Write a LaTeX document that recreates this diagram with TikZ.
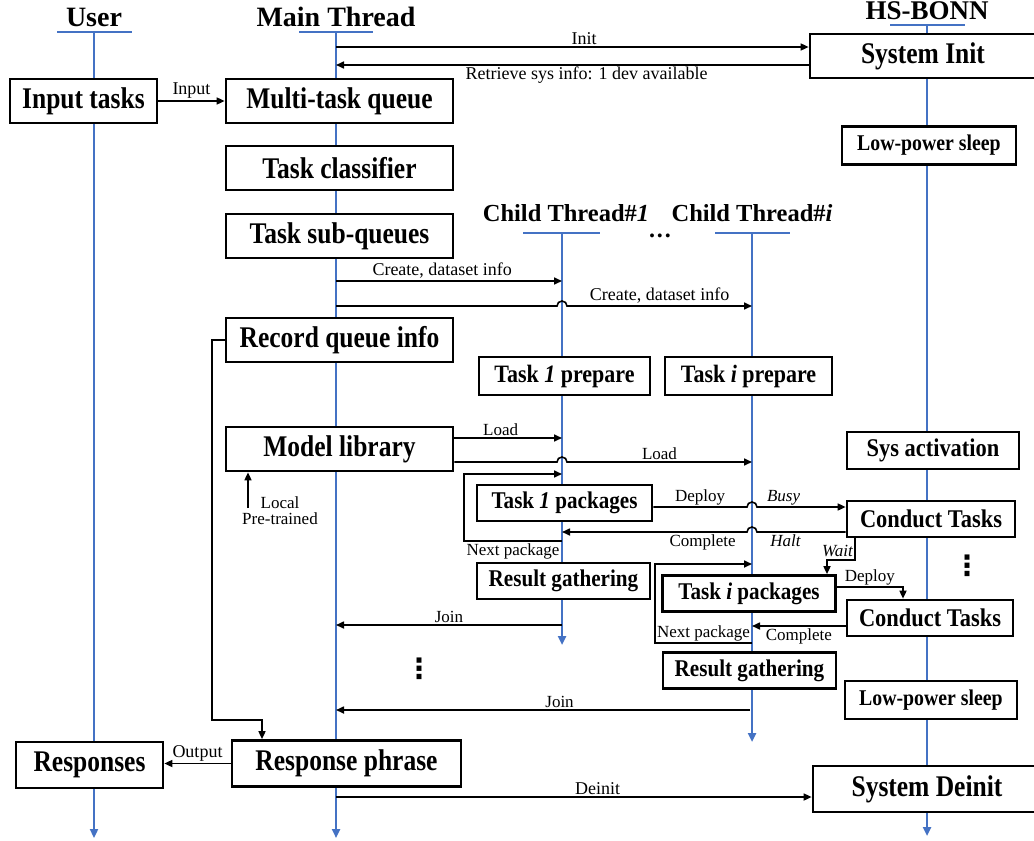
\documentclass[tikz,border=0pt]{standalone}
\usepackage{fontspec}
\setmainfont{Liberation Serif}
\newfontfamily\bxf[FakeStretch=0.85]{Liberation Serif}
\newfontfamily\mxf[FakeStretch=0.88]{Liberation Serif}
\newfontfamily\dejavu{DejaVu Sans}
\usetikzlibrary{arrows.meta,calc}
\definecolor{lifeblue}{HTML}{4472C4}
\tikzset{
  life/.style={draw=lifeblue, line width=2.5pt},
  lifearr/.style={life, -{Triangle[length=9pt,width=8pt]}},
  boxbase/.style={draw, line width=2.7pt, fill=white, inner sep=0pt},
  bigbox/.style={boxbase, minimum height=44pt, font=\bxf\bfseries\fontsize{30}{32}\selectfont},
  midbox/.style={boxbase, minimum height=36pt, font=\mxf\bfseries\fontsize{24}{26}\selectfont},
  ttl/.style={inner sep=0pt, font=\bfseries\fontsize{28}{30}\selectfont},
  cttl/.style={inner sep=0pt, font=\bfseries\fontsize{24.5}{26}\selectfont},
  conn/.style={line width=1.6pt},
  arr/.style={conn, -{Triangle[length=8pt,width=7pt]}},
  lab/.style={inner sep=1.5pt, font=\fontsize{18}{20}\selectfont},
  slab/.style={inner sep=1.5pt, font=\fontsize{17}{18}\selectfont},
  ilab/.style={inner sep=1.5pt, font=\itshape\fontsize{17}{18}\selectfont},
  vdots/.style={inner sep=0pt, font=\dejavu\bfseries\fontsize{28}{29}\selectfont},
}
\begin{document}
\begin{tikzpicture}[x=1pt,y=-1pt]
\useasboundingbox (0,0) rectangle (1034,841);
% lifelines
\coordinate (uTop) at (94,32);   \coordinate (uEnd) at (94,838);
\coordinate (mTop) at (336,32);  \coordinate (mEnd) at (336,838);
\coordinate (hTop) at (927,25);  \coordinate (hEnd) at (927,836);
\coordinate (c1Top) at (562,233); \coordinate (c1End) at (562,645);
\coordinate (ciTop) at (752,233); \coordinate (ciEnd) at (752,742);
\draw[lifearr] (uTop) -- (uEnd);
\draw[lifearr] (mTop) -- (mEnd);
\draw[lifearr] (hTop) -- (hEnd);
\draw[lifearr] (c1Top) -- (c1End);
\draw[lifearr] (ciTop) -- (ciEnd);
\draw[life] ($(uTop)+(-37,0)$) -- ($(uTop)+(38,0)$);
\draw[life] ($(mTop)+(-37,0)$) -- ($(mTop)+(37,0)$);
\draw[life] ($(hTop)+(-37,0)$) -- ($(hTop)+(38,0)$);
\draw[life] ($(c1Top)+(-39,0)$) -- ($(c1Top)+(38,0)$);
\draw[life] ($(ciTop)+(-37,0)$) -- ($(ciTop)+(38,0)$);
% titles
\node[ttl] (tUser) at (94,17) {User};
\node[ttl] (tMain) at (336,17) {Main Thread};
\node[ttl, font=\bfseries\fontsize{27}{29}\selectfont] (tHS) at (927,11) {HS-BONN};
\node[cttl] (tC1) at (566,213) {Child Thread\#\textit{1}};
\node[cttl] (tCi) at (752,213) {Child Thread\#\textit{i}};
\node[inner sep=0pt, font=\bfseries\fontsize{24}{26}\selectfont] (hdots) at (660,236) {.\hspace{2pt}.\hspace{2pt}.};
\node[vdots] (vd1) at (419,669) {⋮};
\node[vdots] (vd2) at (967,566) {⋮};
% boxes
\node[bigbox, minimum width=147pt] (inp) at (83.5,101) {Input tasks};
\node[bigbox, minimum width=227pt] (mtq) at (339.5,101) {Multi-task queue};
\node[bigbox, minimum width=226pt] (sysinit) at (923,56) {System Init};
\node[midbox, minimum width=174pt, minimum height=38pt, font=\mxf\bfseries\fontsize{22.5}{24}\selectfont] (lps1) at (929,145.5) {Low-power sleep};
\node[bigbox, minimum width=227pt] (tcl) at (339.5,168) {Task classifier};
\node[bigbox, minimum width=227pt] (tsq) at (339.5,236) {Task sub-queues};
\node[bigbox, minimum width=227pt] (rqi) at (339.5,340) {Record queue info};
\node[midbox, minimum width=171pt, minimum height=38pt, font=\mxf\bfseries\fontsize{25}{26}\selectfont] (t1p) at (564.5,376) {Task \textit{1} prepare};
\node[midbox, minimum width=167pt, minimum height=38pt, font=\mxf\bfseries\fontsize{25}{26}\selectfont] (tip) at (748.5,376) {Task \textit{i} prepare};
\node[bigbox, minimum width=227pt] (ml) at (339.5,449) {Model library};
\node[midbox, minimum width=172pt, minimum height=37pt, font=\mxf\bfseries\fontsize{25.5}{26}\selectfont] (sa) at (933,450.5) {Sys activation};
\node[midbox, minimum width=175pt] (t1k) at (564.5,503) {Task \textit{1} packages};
\node[midbox, minimum width=168pt, font=\mxf\bfseries\fontsize{25.5}{26}\selectfont] (ct1) at (931,519) {Conduct Tasks};
\node[midbox, minimum width=173pt] (rg1) at (563.5,581) {Result gathering};
\node[midbox, minimum width=173pt] (tik) at (749,593.5) {Task \textit{i} packages};
\node[midbox, minimum width=166pt, font=\mxf\bfseries\fontsize{25.5}{26}\selectfont] (ct2) at (930,618) {Conduct Tasks};
\node[midbox, minimum width=173pt] (rgi) at (749.5,670.5) {Result gathering};
\node[midbox, minimum width=172pt, minimum height=38pt, font=\mxf\bfseries\fontsize{22.5}{24}\selectfont] (lps2) at (931,700) {Low-power sleep};
\node[bigbox, minimum width=147pt, minimum height=46pt] (resp) at (89.5,765) {Responses};
\node[bigbox, minimum width=229pt, minimum height=46pt] (rph) at (346.5,763.5) {Response phrase};
\node[bigbox, minimum width=228pt, minimum height=46pt] (sd) at (927,789) {System Deinit};
% connectors
\coordinate (pInit) at (336,47);
\draw[arr] (pInit) -- (sysinit.west |- pInit) node[lab, above, pos=.525] (lInit) {Init};
\coordinate (pRet) at (336,65);
\draw[arr] (sysinit.west |- pRet) -- (pRet) node[lab, below, pos=.47] (lRet) {Retrieve sys info: 1 dev available};
\draw[arr] (inp) -- (mtq) node[lab, above, midway] (lInput) {Input};
\coordinate (pCr1) at (336,281);
\draw[arr] (pCr1) -- (c1Top |- pCr1) node[lab, above, pos=.47] (lCr1) {Create, dataset info};
\coordinate (pCr2) at (336,306);
\draw[arr] (pCr2) -- ($(c1Top |- pCr2)+(-5,0)$) arc[start angle=180,end angle=0,radius=5pt] -- node[lab, above] (lCr2) {Create, dataset info} (ciTop |- pCr2);
\coordinate (pL1) at (562,438);
\draw[arr] (ml.east |- pL1) -- (pL1) node[slab, above, pos=.43] (lL1) {Load};
\coordinate (pL2) at (752,462);
\draw[arr] (ml.east |- pL2) -- ($(c1Top |- pL2)+(-5,0)$) arc[start angle=180,end angle=0,radius=5pt] -- node[slab, above] (lL2) {Load} (pL2);
\coordinate (pNp1) at (562,541); \coordinate (pNp1t) at (562,474); \coordinate (lx1) at (464,507);
\draw[arr] (pNp1) -| node[slab, below, pos=.25] (lNp1) {Next package} (lx1) |- (pNp1t);
\coordinate (pDep) at (847,507);
\draw[arr] (t1k.east |- pDep) -- node[slab, above] (lDep) {Deploy} ($(ciTop |- pDep)+(-5,0)$) arc[start angle=180,end angle=0,radius=5pt] -- node[ilab, above, pos=.3] (lBusy) {Busy} (ct1.west |- pDep);
\coordinate (pCom) at (562,532);
\draw[arr] (ct1.west |- pCom) -- node[ilab, below, pos=.68] (lHalt) {Halt} ($(ciTop |- pCom)+(5,0)$) arc[start angle=0,end angle=180,radius=5pt] -- node[slab, below, pos=.24] (lCom) {Complete} (pCom);
\coordinate (wx) at (855,560); \coordinate (wx2) at (827,560);
\draw[arr] (ct1.south -| wx) -- node[ilab, left, pos=.6] (lWait) {Wait} (wx) -- (wx2) -- (tik.north -| wx2);
\coordinate (pNpi) at (752,643); \coordinate (pNpit) at (752,564); \coordinate (lxi) at (655,600);
\draw[arr] (pNpi) -| node[slab, above, pos=.25] (lNpi) {Next package} (lxi) |- (pNpit);
\coordinate (d2) at (903,587);
\draw[arr] (tik.east |- d2) -- node[slab, above] (lDep2) {Deploy} (d2) -- (ct2.north -| d2);
\coordinate (pC2) at (752,626);
\draw[arr] (ct2.west |- pC2) -- node[slab, below] (lC2) {Complete} (pC2);
\coordinate (pJ1) at (562,625);
\draw[arr] (pJ1) -- node[slab, above] (lJ1) {Join} (mTop |- pJ1);
\coordinate (pJ2) at (750,710);
\draw[arr] (pJ2) -- node[slab, above, pos=.46] (lJ2) {Join} (mTop |- pJ2);
\draw[arr] (rph.west) -- (resp.east |- rph.west) node[lab, above, midway] (lOut) {Output};
\coordinate (pDe) at (336,797);
\draw[arr] (pDe) -- (sd.west |- pDe) node[lab, above, pos=.55] (lDe) {Deinit};
\coordinate (pLoc) at (248,508);
\draw[arr] (pLoc) -- (ml.south -| pLoc);
\node[slab, align=center, font=\fontsize{17}{16}\selectfont] (lLoc) at (280,511) {Local\\Pre-trained};
\coordinate (rx) at (212,720); \coordinate (ry) at (262,720);
\draw[arr] (rqi.west) -| (rx) -- (ry) -- (rph.north -| ry);
\end{tikzpicture}
\end{document}
